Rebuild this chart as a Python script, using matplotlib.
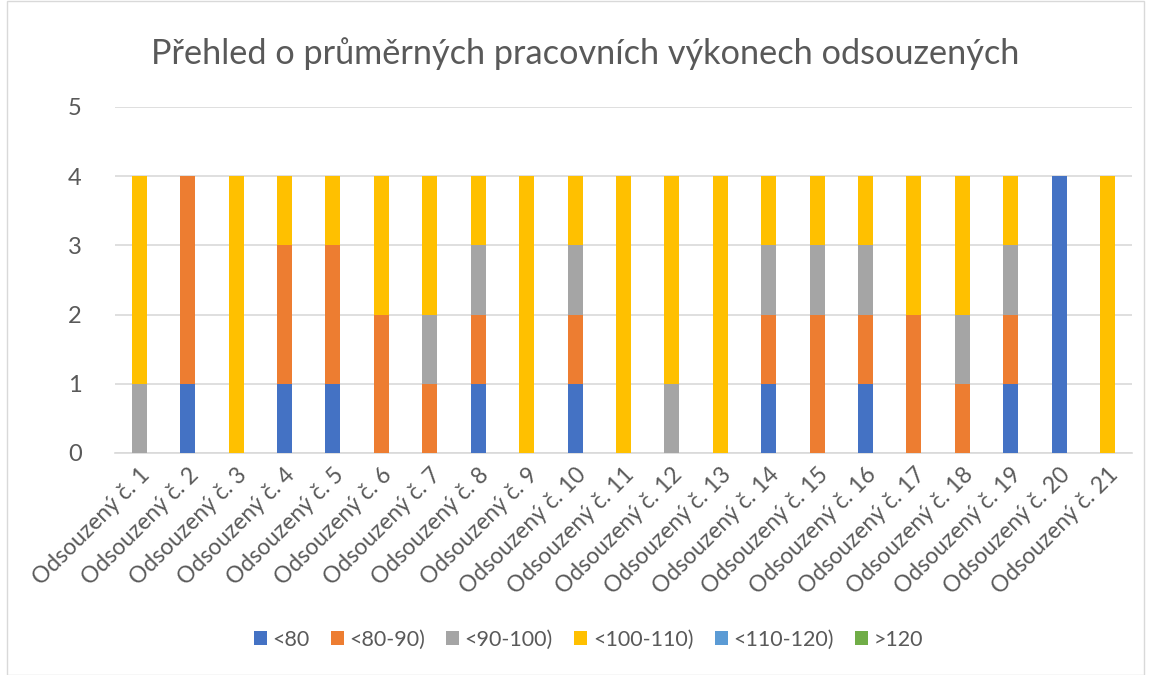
import matplotlib
matplotlib.use("Agg")
import matplotlib.pyplot as plt
import numpy as np
from matplotlib.patches import Rectangle

plt.rcParams['font.family'] = ['Lato', 'DejaVu Sans']

categories = [f"Odsouzený č. {i}" for i in range(1, 22)]
series_names = ["<80", "<80-90)", "<90-100)", "<100-110)", "<110-120)", ">120"]
colors = ["#4472C4", "#ED7D31", "#A5A5A5", "#FFC000", "#5B9BD5", "#70AD47"]

s_lt80 =    [0, 1, 0, 1, 1, 0, 0, 1, 0, 1, 0, 0, 0, 1, 0, 1, 0, 0, 1, 4, 0]
s_80_90 =   [0, 3, 0, 2, 2, 2, 1, 1, 0, 1, 0, 0, 0, 1, 2, 1, 2, 1, 1, 0, 0]
s_90_100 =  [1, 0, 0, 0, 0, 0, 1, 1, 0, 1, 0, 1, 0, 1, 1, 1, 0, 1, 1, 0, 0]
s_100_110 = [3, 0, 4, 1, 1, 2, 2, 1, 4, 1, 4, 3, 4, 1, 1, 1, 2, 2, 1, 0, 4]
s_110_120 = [0] * 21
s_gt120 =   [0] * 21
series = [s_lt80, s_80_90, s_90_100, s_100_110, s_110_120, s_gt120]

fig = plt.figure(figsize=(11.49, 6.75), dpi=100)
ax = fig.add_axes([0.1001, 0.329, 0.885, 0.5125])

x = np.arange(len(categories))
bottom = np.zeros(len(categories))
handles = []
for name, vals, c in zip(series_names, series, colors):
    b = ax.bar(x, vals, width=0.31, bottom=bottom, color=c, label=name, zorder=3)
    handles.append(b)
    bottom += np.array(vals)

ax.set_xlim(-0.5, len(categories) - 0.5)
ax.set_ylim(0, 5)
ax.set_yticks(range(6))
ax.yaxis.grid(True, color="#D9D9D9", linewidth=1.2, zorder=0)
for s in ["top", "right", "left"]:
    ax.spines[s].set_visible(False)
ax.spines["bottom"].set_color("#D9D9D9")
ax.spines["bottom"].set_linewidth(1.2)
ax.tick_params(axis="both", length=0, colors="#595959")
ax.tick_params(axis="y", pad=24, labelsize=17)
ax.set_xticks(x)
ax.set_xticklabels(categories, rotation=45, ha="right", rotation_mode="anchor", fontsize=16.5)
ax.tick_params(axis="x", pad=8)

fig.text(0.509, 0.921, "Přehled o průměrných pracovních výkonech odsouzených",
         ha="center", va="center", fontsize=24.7, color="#595959")

leg = fig.legend(handles=handles, labels=series_names, loc="center", bbox_to_anchor=(0.512, 0.052),
                 ncol=6, frameon=False, fontsize=15.5, handlelength=0.6, handleheight=0.6,
                 columnspacing=1.0, handletextpad=0.25)
for t in leg.get_texts():
    t.set_color("#595959")

fig.patches.append(Rectangle((0.006, 0.0), 0.99, 0.999, transform=fig.transFigure,
                             fill=False, edgecolor="#D9D9D9", linewidth=1))

fig.savefig("out.png", dpi=100, facecolor="white")
